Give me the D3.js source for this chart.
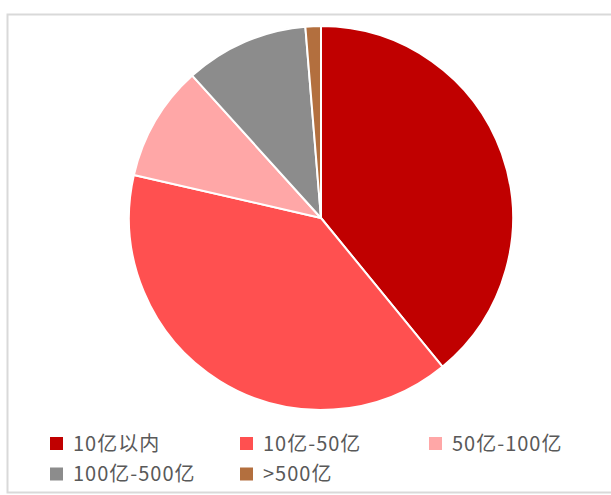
<!DOCTYPE html>
<html>
  <head>
    <meta charset="utf-8">
    <script src="https://d3js.org/d3.v7.min.js"></script>
    <style>
      body { margin: 0; background: #fff; }
      .legend text {
        font: 20px "Noto Sans CJK SC", "Noto Sans", sans-serif;
        letter-spacing: 1px;
        fill: #595959;
      }
    </style>
  </head>
  <body>
    <script>
      // share of companies by size bucket (%)
      var categories = ["10亿以内", "10亿-50亿", "50亿-100亿", "100亿-500亿", ">500亿"];
      var values = [39.1, 39.5, 9.7, 10.4, 1.3];
      var colors = ["#C00000", "#FF5050", "#FFA7A7", "#8C8C8C", "#B36F3E"];

      var width = 611, height = 495;

      var svg = d3.select("body").append("svg")
        .attr("width", width)
        .attr("height", height);

      // chart frame (right edge is cut off)
      svg.append("rect")
        .attr("x", 7.5).attr("y", 14.5)
        .attr("width", 620).attr("height", 478)
        .attr("fill", "none")
        .attr("stroke", "#D9D9D9")
        .attr("stroke-width", 2);

      var color = d3.scaleOrdinal().domain(categories).range(colors);

      var pie = d3.pie().sort(null).value(function(d) { return d.value; });
      var arc = d3.arc().innerRadius(0).outerRadius(192);

      var data = categories.map(function(c, i) { return { name: c, value: values[i] }; });

      var g = svg.append("g")
        .attr("transform", "translate(321,218)");

      g.selectAll("path")
        .data(pie(data))
        .enter().append("path")
        .attr("d", arc)
        .attr("fill", function(d) { return color(d.data.name); })
        .attr("stroke", "#fff")
        .attr("stroke-width", 2)
        .attr("stroke-linejoin", "round");

      // legend, 3 columns
      var colX = [50, 240, 429];
      var rowY = [443.5, 474];

      var legend = svg.append("g").attr("class", "legend")
        .selectAll("g")
        .data(categories)
        .enter().append("g")
        .attr("transform", function(d, i) {
          return "translate(" + colX[i % 3] + "," + rowY[Math.floor(i / 3)] + ")";
        });

      legend.append("rect")
        .attr("x", 0).attr("y", -6.5)
        .attr("width", 13).attr("height", 13)
        .attr("fill", function(d) { return color(d); });

      legend.append("text")
        .attr("x", 23)
        .attr("dy", "0.35em")
        .text(function(d) { return d; });
    </script>
  </body>
</html>
